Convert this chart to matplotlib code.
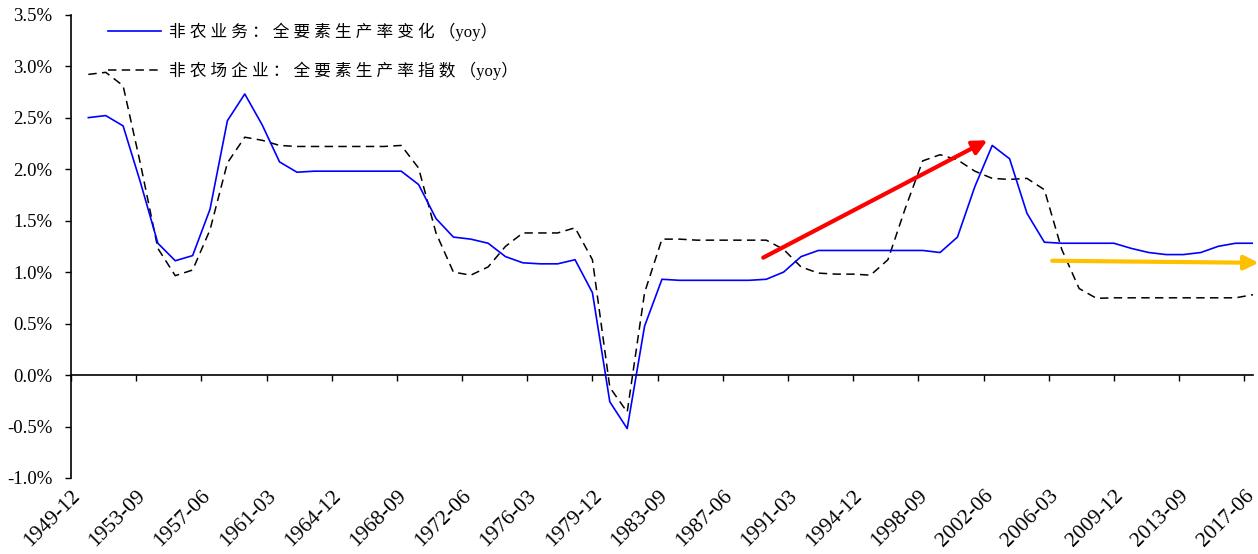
import matplotlib
matplotlib.use("Agg")
import matplotlib.pyplot as plt
from matplotlib.lines import Line2D
from matplotlib.ticker import FixedLocator, FuncFormatter

# Annual observations (year-end), 1950-2017, % yoy
years = list(range(1950, 2018))
tfp_nonfarm_business = [
    2.50, 2.52, 2.42, 1.87, 1.28, 1.11, 1.16, 1.61, 2.47, 2.73,
    2.43, 2.07, 1.97, 1.98, 1.98, 1.98, 1.98, 1.98, 1.98, 1.85,
    1.52, 1.34, 1.32, 1.28, 1.15, 1.09, 1.08, 1.08, 1.12, 0.80,
    -0.26, -0.52, 0.475, 0.93, 0.92, 0.92, 0.92, 0.92, 0.92, 0.93,
    1.00, 1.15, 1.21, 1.21, 1.21, 1.21, 1.21, 1.21, 1.21, 1.19,
    1.34, 1.83, 2.23, 2.10, 1.57, 1.29, 1.28, 1.28, 1.28, 1.28,
    1.23, 1.19, 1.17, 1.17, 1.19, 1.25, 1.28, 1.28,
]
tfp_nonfarm_index = [
    2.92, 2.94, 2.81, 2.05, 1.23, 0.965, 1.02, 1.41, 2.06, 2.31,
    2.28, 2.23, 2.22, 2.22, 2.22, 2.22, 2.22, 2.22, 2.23, 2.01,
    1.38, 1.00, 0.97, 1.05, 1.25, 1.38, 1.38, 1.38, 1.43, 1.12,
    -0.12, -0.36, 0.80, 1.32, 1.32, 1.31, 1.31, 1.31, 1.31, 1.31,
    1.22, 1.05, 0.99, 0.98, 0.98, 0.97, 1.12, 1.62, 2.08, 2.14,
    2.09, 1.98, 1.91, 1.90, 1.91, 1.80, 1.22, 0.84, 0.745, 0.75,
    0.75, 0.75, 0.75, 0.75, 0.75, 0.75, 0.75, 0.78,
]
series_names = [
    "非农业务：全要素生产率变化（yoy）",
    "非农场企业：全要素生产率指数（yoy）",
]
tick_labels = [
    "1949-12", "1953-09", "1957-06", "1961-03", "1964-12", "1968-09",
    "1972-06", "1976-03", "1979-12", "1983-09", "1987-06", "1991-03",
    "1994-12", "1998-09", "2002-06", "2006-03", "2009-12", "2013-09",
    "2017-06",
]
y_ticks = [-1.0, -0.5, 0.0, 0.5, 1.0, 1.5, 2.0, 2.5, 3.0, 3.5]

# Trend arrows (quarter index, %)
red_arrow = [(159.3, 1.14), (210.9, 2.28)]
gold_arrow = [(225.8, 1.11), (273.3, 1.09)]

# The horizontal axis counts quarters starting from 1949-12
x_pos = [4 * (y - 1949) for y in years]
n_quarters = 272

serif = ["Liberation Serif", "Noto Sans CJK SC"]
plt.rcParams["font.family"] = serif

fig = plt.figure(figsize=(12.58, 5.54), dpi=100)
ax = fig.add_axes([0.0564, 0.1372, 0.9396, 0.8363])

ax.plot(x_pos, tfp_nonfarm_business, color="#0000FF", lw=1.2, zorder=3)
ax.plot(x_pos, tfp_nonfarm_index, color="black", lw=1.1,
        linestyle=(0, (5.5, 3.5)), zorder=2)

ax.set_xlim(0, n_quarters)
ax.set_ylim(-1.0, 3.5)

# y axis
ax.yaxis.set_major_locator(FixedLocator(y_ticks))
ax.yaxis.set_major_formatter(FuncFormatter(lambda v, p: f"{v:.1f}%"))
ax.tick_params(axis="y", direction="out", length=4.5, width=1.0,
               pad=9, labelsize=13.5, colors="black")
for s in ["top", "right"]:
    ax.spines[s].set_visible(False)
ax.spines["left"].set_linewidth(1.2)

# x axis line sits at zero; tick labels sit under the plot
ax.spines["bottom"].set_position(("data", 0))
ax.spines["bottom"].set_linewidth(1.2)
tick_q = [15 * i for i in range(len(tick_labels))]
ax.set_xticks(tick_q)
ax.tick_params(axis="x", direction="out", length=4, width=1.0,
               labelbottom=False)

sec = ax.secondary_xaxis(0)
sec.set_xticks(tick_q)
sec.set_xticklabels(tick_labels, rotation=45, ha="right", va="top",
                    rotation_mode="anchor", fontsize=15.5)
sec.tick_params(axis="x", length=0, pad=6)
sec.spines["bottom"].set_visible(False)

# arrows
for (p0, p1), col in [(red_arrow, "#FF0000"), (gold_arrow, "#FFC000")]:
    ax.annotate("", xy=p1, xytext=p0, annotation_clip=False,
                arrowprops=dict(arrowstyle="-|>,head_length=0.85,head_width=0.42",
                                color=col, lw=3.0, shrinkA=0, shrinkB=0,
                                mutation_scale=10, clip_on=False),
                zorder=4)

# legend
def spaced(label):
    head, tail = label.split("（")
    return " ".join(list(head)) + " （" + tail

handles = [
    Line2D([], [], color="#0000FF", lw=1.2),
    Line2D([], [], color="black", lw=1.1, linestyle=(0, (5.5, 3.5))),
]
leg = ax.legend(handles, [spaced(s) for s in series_names],
                loc="upper left", bbox_to_anchor=(108 / 1258, 1 - 23 / 554),
                bbox_transform=fig.transFigure, frameon=False,
                prop={"family": serif, "size": 12},
                handlelength=3.2, handletextpad=0.45, labelspacing=1.2,
                borderpad=0, borderaxespad=0)

fig.savefig("out.png", dpi=100)
